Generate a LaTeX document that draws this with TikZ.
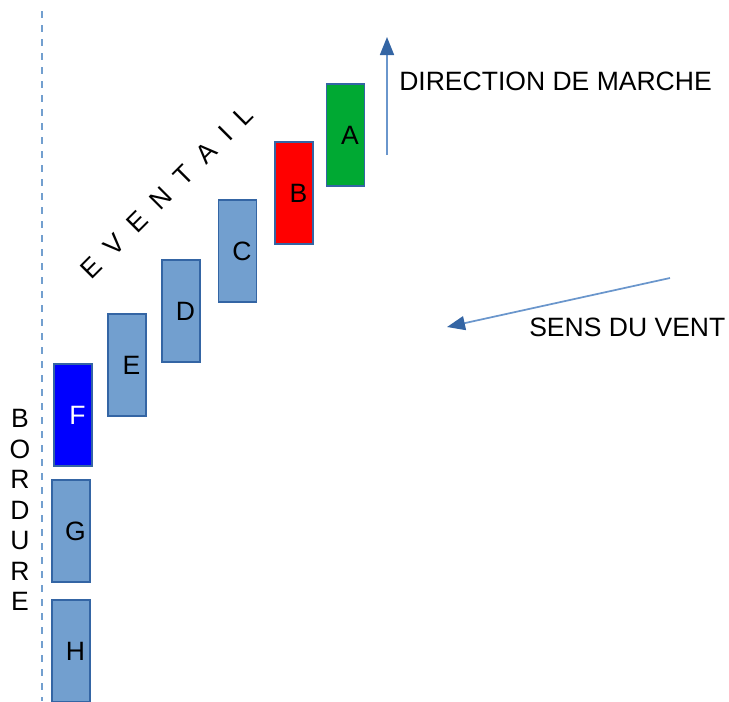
\documentclass[tikz,border=0pt]{standalone}
\usepackage{fontspec}
\setmainfont{Liberation Sans}
\usetikzlibrary{arrows.meta}
\definecolor{boxblue}{HTML}{729FCF}
\definecolor{edgeblue}{HTML}{3465A4}
\definecolor{shaftblue}{HTML}{6A96CC}
\definecolor{boxgreen}{HTML}{00A933}
\definecolor{boxred}{HTML}{FF0000}
\definecolor{boxdeep}{HTML}{0000FF}
\begin{document}
\begin{tikzpicture}[x=0.75pt, y=-0.75pt,
		every node/.style={font=\fontsize{19.9}{22.9}\selectfont},
		rang/.style={draw=edgeblue, line width=0.8pt, fill=boxblue, inner sep=0pt, minimum width=28.5pt, minimum height=76.5pt, execute at begin node={\hspace*{6.75pt}}},
		fleche/.style={shaftblue, line width=1.3pt, -{Triangle[length=13.5pt, width=10.5pt, color=edgeblue]}}]
			\useasboundingbox (0,0) rectangle (729,701);
			\draw[boxblue, line width=1.1pt, dash pattern=on 5.25pt off 5.25pt] (42,11) -- (42,701);
			\node[rang, fill=boxgreen] (A) at (345.5,135) {A};
			\node[rang, fill=boxred] (B) at (294,193) {B};
			\node[rang] (C) at (237.5,251) {C};
			\node[rang] (D) at (181,311) {D};
			\node[rang] (E) at (127,365) {E};
			\node[rang, fill=boxdeep, text=white] (F) at (73,415) {F};
			\node[rang] (G) at (71,531) {G};
			\node[rang] (H) at (71,651) {H};
			\coordinate (marche0) at (387,155);
			\coordinate (marche1) at (387,37);
			\draw[fleche] (marche0) -- (marche1);
			\node[anchor=west, inner sep=0pt] (marche) at (399,81) {DIRECTION DE MARCHE};
			\coordinate (vent0) at (670,278);
			\coordinate (vent1) at (447,327);
			\draw[fleche] (vent0) -- (vent1);
			\node[anchor=west, inner sep=0pt] (vent) at (529,327) {SENS DU VENT};
			\node[rotate=45, inner sep=0pt] (eventail) at (167,192) {E~~V~~E~~N~~T~~A~~I~~L};
			\node[align=center, inner sep=0pt] (bordure) at (20,510) {B\\O\\R\\D\\U\\R\\E};
		\end{tikzpicture}
\end{document}
